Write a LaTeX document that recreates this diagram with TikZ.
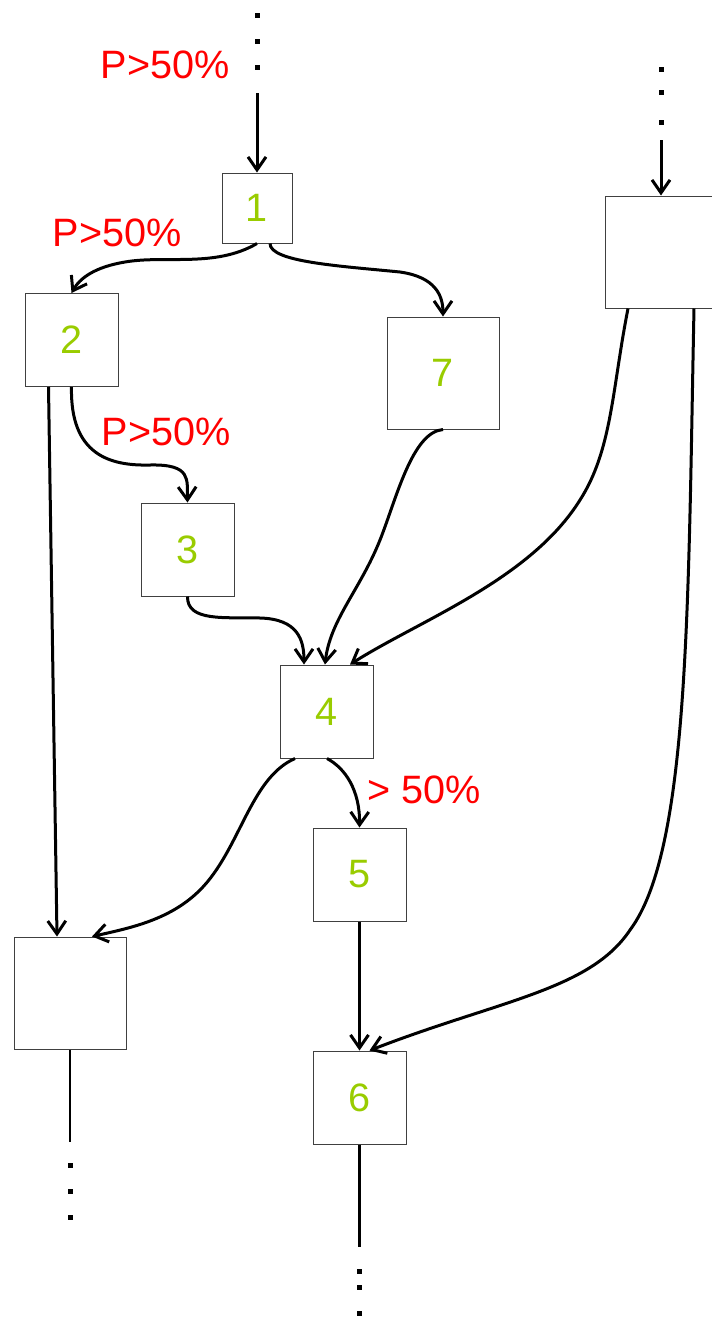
\documentclass[tikz,border=0pt]{standalone}
\usepackage{fontspec}
\setmainfont{Liberation Sans}
\usepackage{xcolor}
\usepackage{tikz}
\usetikzlibrary{scopes,calc,arrows.meta}
\definecolor{numgreen}{RGB}{153,204,0}
\tikzset{
  mybox/.style={draw=black!75,line width=0.5pt,inner sep=0pt,text=numgreen,
    font=\fontsize{19.8}{22}\selectfont},
  smallbox/.style={mybox,minimum size=35pt},
  midbox/.style={mybox,minimum size=46.5pt},
  bigbox/.style={mybox,minimum size=56pt},
  mylabel/.style={text=red,inner sep=0pt,font=\fontsize{19.8}{22}\selectfont},
  route/.style={-{Straight Barb[length=6.5pt,width=9pt]},line width=1.5pt},
  tail/.style={line width=1.5pt},
  mydots/.style={fill=black}
}

\begin{document}
\begin{tikzpicture}[x=0.5pt,y=-0.5pt]
  \useasboundingbox (0,0) rectangle (712,1318);
  % boxes
  \node[smallbox] (n1) at (257,208)   {1};
  \node[midbox]   (n2) at (71.5,340)  {2};
  \node[bigbox]   (n7) at (443,373)   {7};
  \node[bigbox]   (nR) at (661,252)   {};
  \node[midbox]   (n3) at (187.5,549.5) {3};
  \node[midbox]   (n4) at (327,711.5) {4};
  \node[midbox]   (n5) at (359.5,874.5) {5};
  \node[bigbox]   (nL) at (70,993)    {};
  \node[midbox]   (n6) at (359.5,1097.5) {6};
  % loose ends
  \coordinate (topin)   at (257,93);
  \coordinate (rightin) at (661,140);
  \coordinate (leftout) at (70,1142);
  \coordinate (midout)  at (359.5,1247);
  {[route]
    \draw (topin) -- (n1.north);
    \draw (rightin) -- (nR.north);
    \draw (n1.south) .. controls (215,268) and (165,255) .. (125,262)
      .. controls (95,267) and (80,278) .. (n2.north);
    \draw ($(n1.south)+(13,0)$) .. controls (270,262) and (340,266) .. (400,272)
      .. controls (435,277) and (443,295) .. (n7.north);
    \draw ($(n2.south)+(-23,0)$) -- ($(nL.north)+(-13,0)$);
    \draw (n2.south) .. controls (70,455) and (110,466) .. (150,465)
      .. controls (192,464) and (187,480) .. (n3.north);
    \draw (n3.south) .. controls (187,622) and (225,617) .. (260,618)
      .. controls (298,619) and (304,640) .. ($(n4.north)+(-23,0)$);
    \draw (n7.south) .. controls (412,432) and (396,500) .. (380,540)
      .. controls (360,590) and (330,620) .. ($(n4.north)+(-2,0)$);
    \draw ($(nR.south)+(-33,0)$) .. controls (612,390) and (612,450) .. (580,500)
      .. controls (530,580) and (420,620) .. ($(n4.north)+(23,0)$);
    \draw ($(n4.south)+(-32,0)$) .. controls (250,778) and (240,850) .. (200,890)
      .. controls (170,920) and (130,928) .. ($(nL.north)+(22,0)$);
    \draw (n4.south) .. controls (345,768) and (360,790) .. (n5.north);
    \draw (n5.south) -- (n6.north);
    \draw ($(nR.south)+(33,0)$) .. controls (688,600) and (690,850) .. (630,930)
      .. controls (590,990) and (500,1000) .. ($(n6.north)+(10,0)$);
  }
  \draw[line width=1pt] (nL.south) -- (leftout);
  \draw[tail] (n6.south) -- (midout);
  \foreach \y in {15,41,67}   \fill[mydots] (257,\y) +(-2.5,-2.5) rectangle +(2.5,2.5);
  \foreach \y in {69,92,122}  \fill[mydots] (661,\y) +(-2.5,-2.5) rectangle +(2.5,2.5);
  \foreach \y in {1165,1191,1217} \fill[mydots] (70,\y) +(-2.5,-2.5) rectangle +(2.5,2.5);
  \foreach \y in {1271,1287,1313} \fill[mydots] (359.5,\y) +(-2.5,-2.5) rectangle +(2.5,2.5);
  % probabilities
  \node[mylabel] (p1) at (165,65)  {P>50\%};
  \node[mylabel] (p2) at (117,233) {P>50\%};
  \node[mylabel] (p3) at (166,432) {P>50\%};
  \node[mylabel] (p4) at (424,790) {> 50\%};
\end{tikzpicture}
\end{document}
